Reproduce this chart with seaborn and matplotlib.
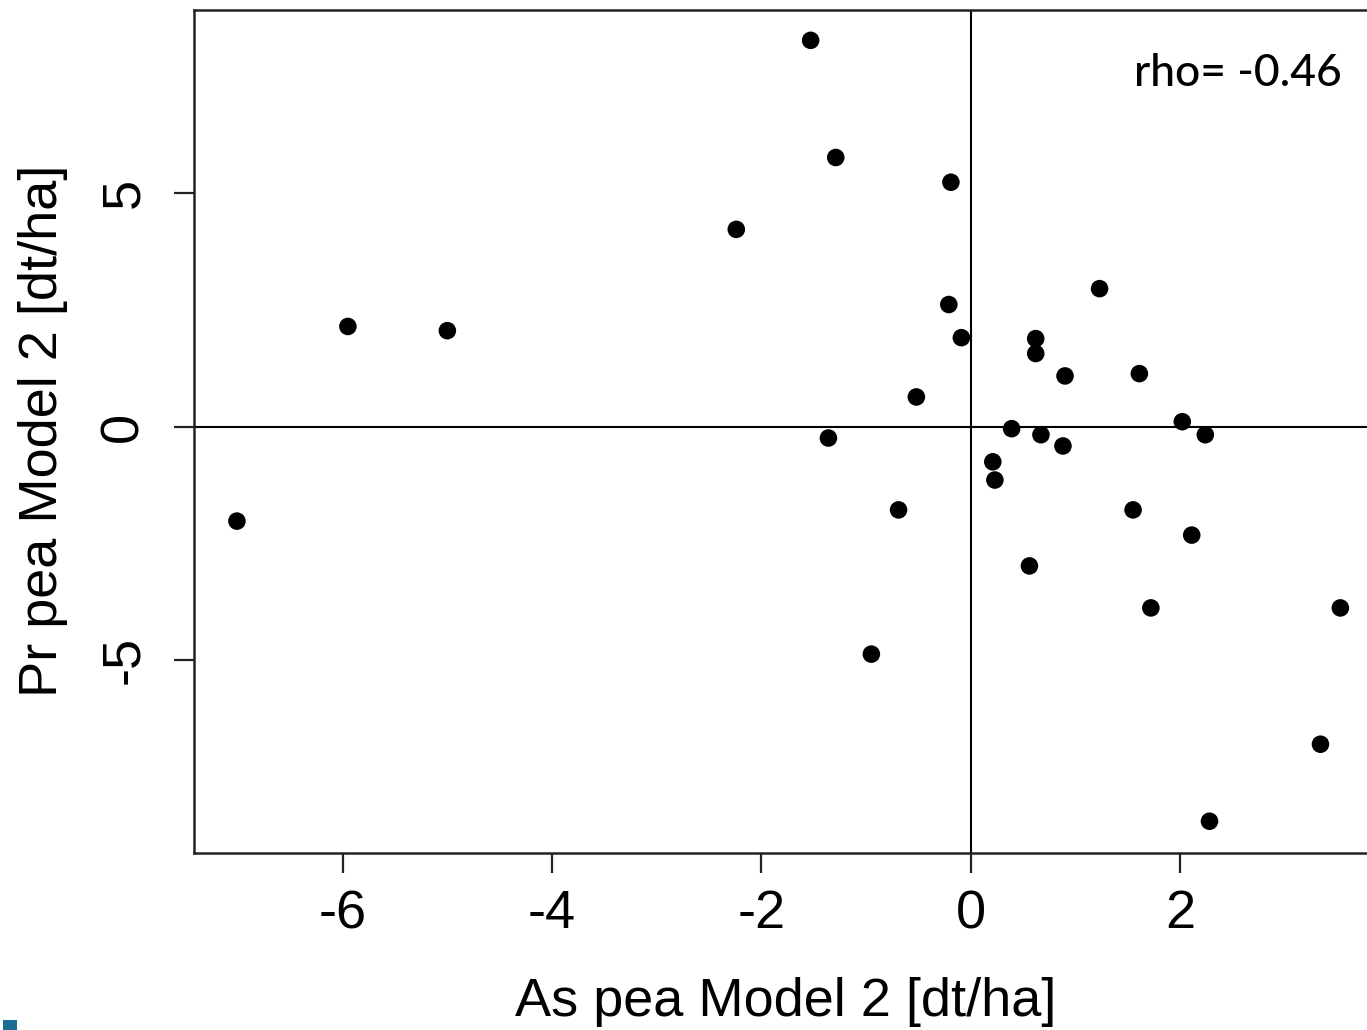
import matplotlib
matplotlib.use("Agg")
import matplotlib.pyplot as plt
import seaborn as sns
import pandas as pd
from matplotlib.patches import Rectangle

as_pea = [-1.53, -1.29, -0.19, -2.24, -5.95, -5.00, -0.21, -0.09, 1.23, 0.62,
          0.62, 0.90, 1.61, -0.52, 0.39, 0.67, -1.36, 0.88, 2.02, 2.24,
          0.21, 0.23, -7.01, -0.69, 1.55, 2.11, 0.56, 1.72, 3.53, -0.95,
          3.34, 2.28]
pr_pea = [8.28, 5.77, 5.24, 4.23, 2.15, 2.06, 2.62, 1.91, 2.96, 1.89,
          1.57, 1.09, 1.14, 0.64, -0.04, -0.17, -0.24, -0.41, 0.11, -0.17,
          -0.75, -1.14, -2.02, -1.78, -1.78, -2.32, -2.98, -3.88, -3.88, -4.87,
          -6.80, -8.45]
x_ticks = [-6, -4, -2, 0, 2]
y_ticks = [-5, 0, 5]
x_label = "As pea Model 2 [dt/ha]"
y_label = "Pr pea Model 2 [dt/ha]"
rho_text = "rho= -0.46"

df = pd.DataFrame({"x": as_pea, "y": pr_pea})

sns.set_theme(style="white")
plt.rcParams["font.family"] = ["Liberation Sans", "DejaVu Sans"]

W, H = 1367, 1030
fig = plt.figure(figsize=(W / 100, H / 100), dpi=100)
left, right, top, bottom = 194, 1377, 10, 852.5
ax = fig.add_axes([left / W, 1 - bottom / H, (right - left) / W, (bottom - top) / H])

sns.scatterplot(data=df, x="x", y="y", ax=ax, color="black", s=160,
                edgecolor="none", linewidth=0, zorder=3)

ax.axvline(0, color="black", lw=1.5, zorder=2)
ax.axhline(0, color="black", lw=1.5, zorder=2)

ax.set_xlim(-7.42, 3.88)
ax.set_ylim(-9.12, 8.93)
ax.set_xticks(x_ticks)
ax.set_yticks(y_ticks)
ax.set_xticklabels([str(t) for t in x_ticks])
ax.set_yticklabels([str(t) for t in y_ticks], rotation=90, va="center")
ax.tick_params(axis="both", length=14.5, width=1.6, color="#222222",
               labelsize=39, labelcolor="black", direction="out",
               left=True, bottom=True)
ax.tick_params(axis="x", pad=12)
ax.tick_params(axis="y", pad=18)

for side in ["left", "top", "bottom", "right"]:
    ax.spines[side].set_color("#222222")
    ax.spines[side].set_linewidth(1.8)

ax.set_xlabel(x_label, fontsize=39, color="black", labelpad=27)
ax.set_ylabel(y_label, fontsize=39, color="black", labelpad=22)

fig.text(1238 / W, 1 - 74 / H, rho_text, fontsize=32, family=["Lato", "DejaVu Sans"],
         fontweight="medium", ha="center", va="center", color="black")

fig.patches.append(Rectangle((3 / W, 0), 14 / W, 10 / H, transform=fig.transFigure,
                             facecolor="#1b6d94", edgecolor="none", figure=fig))

fig.savefig("out.png", dpi=100)
